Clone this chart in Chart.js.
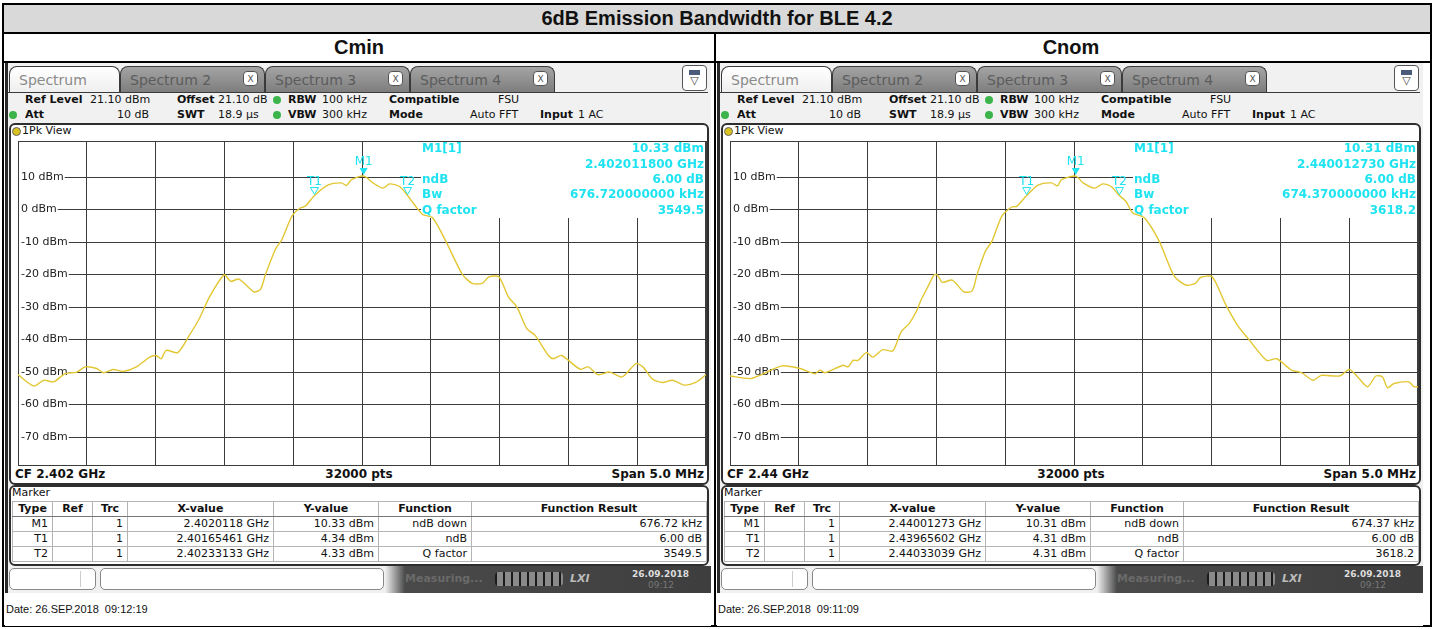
<!DOCTYPE html>
<html lang="en">
<head>
<meta charset="UTF-8">
<title>6dB Emission Bandwidth for BLE 4.2</title>
<script src="https://cdn.jsdelivr.net/npm/chart.js"></script>
<style>
body{margin:0;width:1435px;height:629px;position:relative;overflow:hidden;background:#fff;font-family:"DejaVu Sans",Verdana,sans-serif;font-size:11px;color:#111}
.a{position:absolute;box-sizing:border-box}
.t{position:absolute;white-space:nowrap;height:16px;line-height:16px}
.head{position:absolute;font-family:"Liberation Sans",Arial,sans-serif;font-weight:bold;font-size:20px;text-align:center;line-height:28px}
.tab{position:absolute;top:66px;height:27px;border:1px solid #3a3a3a;border-bottom:none;border-radius:8px 8px 0 0;font-size:14px;line-height:26px;box-sizing:border-box;padding-left:9px}
.off{background:linear-gradient(#a4a4a4,#7c7c7c);color:#5c5c5c}
.on{background:linear-gradient(#ffffff,#eeeeee);color:#8a8a8a}
.x{position:absolute;top:4px;width:15px;height:15px;border:1px solid #555;border-radius:4px;background:#fff;color:#555;font-size:9px;line-height:14px;text-align:center;padding:0;box-sizing:border-box}
.mk{position:absolute;border-collapse:collapse;table-layout:fixed;font-size:11px}
.mk td,.mk th{border:1px solid #b4b4b4;padding:0 4px;height:14px;line-height:14px;text-align:right;white-space:nowrap;overflow:hidden}
.mk th{text-align:center;font-weight:bold;border-bottom:1px solid #777}
.dot{position:absolute;width:8px;height:8px;border-radius:50%;background:#3cb44a}
</style>
</head>
<body>
<script>
// trace, frequency offset from CF in MHz / level in dBm
const cminFreq = [-2.5,-2.385,-2.313,-2.241,-2.157,-2.072,-2.012,-1.928,-1.880,-1.808,-1.736,-1.639,-1.543,-1.495,-1.459,-1.423,-1.339,-1.255,-1.183,-1.110,-1.002,-0.954,-0.894,-0.786,-0.737,-0.701,-0.629,-0.582,-0.509,-0.449,-0.413,-0.345,-0.245,-0.149,-0.113,-0.076,0.012,0.080,0.152,0.201,0.273,0.331,0.381,0.441,0.513,0.609,0.729,0.801,0.874,0.922,0.994,1.066,1.126,1.199,1.258,1.355,1.391,1.451,1.583,1.644,1.716,1.800,1.884,1.920,1.992,2.041,2.113,2.185,2.257,2.341,2.425,2.5];
const cminLevel = [-50.8,-54.3,-52.5,-53,-50.5,-50,-48.4,-48.9,-50.2,-49.2,-49.8,-48.4,-45.4,-44.9,-45.9,-43.3,-44,-38.7,-33.6,-27,-20.1,-22.1,-21.4,-25.3,-24.5,-19.9,-12.2,-9.2,-2,0.5,1,4.34,7.6,8.2,7.4,9.2,10.33,8.2,6.6,7.9,7.1,4.33,1.5,-1.5,-2.5,-9.7,-19.9,-22.7,-22.7,-20.7,-20.7,-27,-30,-36.7,-38.7,-44.9,-45.9,-44.9,-49.1,-48.4,-50.8,-50,-51.5,-50.5,-47.4,-48.4,-52.2,-53.2,-52.5,-54,-53.2,-50.8];
const cnomFreq = [-2.5,-2.351,-2.255,-2.123,-1.991,-1.882,-1.846,-1.810,-1.678,-1.642,-1.606,-1.570,-1.509,-1.462,-1.390,-1.317,-1.257,-1.197,-1.149,-1.113,-1.065,-1.017,-0.993,-0.957,-0.885,-0.800,-0.740,-0.704,-0.644,-0.596,-0.524,-0.452,-0.416,-0.344,-0.258,-0.163,-0.120,-0.091,0.013,0.066,0.150,0.210,0.270,0.330,0.378,0.426,0.511,0.619,0.727,0.811,0.883,0.919,1.004,1.100,1.190,1.268,1.400,1.473,1.581,1.653,1.737,1.797,1.929,2.001,2.062,2.134,2.194,2.242,2.278,2.326,2.434,2.470,2.5];
const cnomLevel = [-51.2,-52,-50.5,-48.1,-48.9,-50.5,-49.4,-50.2,-47.9,-48.4,-46.4,-46.4,-44,-45.4,-43.1,-43.5,-37.7,-35,-31.6,-28,-24,-20.1,-20.1,-22.4,-21.7,-25.3,-25,-19.9,-12.8,-9.7,-2,0.8,1,4.31,7.6,8.2,7.3,9.2,10.31,8.2,6.6,7.9,7.1,4.31,2.5,-1,-2.5,-9.7,-20.4,-23.2,-22.7,-20.9,-20.7,-29,-35.7,-39.8,-46.4,-45.9,-49.4,-50.2,-52.5,-51,-51.2,-49.2,-51.5,-54.5,-51.2,-51.5,-54.8,-53.5,-53,-54.5,-54.5];

// axes
const xTicks = [-2.5,-2,-1.5,-1,-0.5,0,0.5,1,1.5,2,2.5];
const yTicks = [10,0,-10,-20,-30,-40,-50,-60,-70];
const refLevel = 21.1;

// markers
const markerNames = ['M1','T1','T2'];
const cminMarkFreq = [0.0118,-0.34539,0.33133];
const cminMarkLevel = [10.33,4.34,4.33];
const cnomMarkFreq = [0.01273,-0.34398,0.33039];
const cnomMarkLevel = [10.31,4.31,4.31];

// texts
const panelNames = ['Cmin','Cnom'];
const cfLabels = ['CF 2.402 GHz','CF 2.44 GHz'];
const infoLeft = ['M1[1]','','ndB','Bw','Q factor'];
const cminInfo = ['10.33 dBm','2.402011800 GHz','6.00 dB','676.720000000 kHz','3549.5'];
const cnomInfo = ['10.31 dBm','2.440012730 GHz','6.00 dB','674.370000000 kHz','3618.2'];
const tableHead = ['Type','Ref','Trc','X-value','Y-value','Function','Function Result'];
const cminX = ['2.4020118 GHz','2.40165461 GHz','2.40233133 GHz'];
const cminY = ['10.33 dBm','4.34 dBm','4.33 dBm'];
const cnomX = ['2.44001273 GHz','2.43965602 GHz','2.44033039 GHz'];
const cnomY = ['10.31 dBm','4.31 dBm','4.31 dBm'];
const funcNames = ['ndB down','ndB','Q factor'];
const cminResult = ['676.72 kHz','6.00 dB','3549.5'];
const cnomResult = ['674.37 kHz','6.00 dB','3618.2'];
const dates = ['Date: 26.SEP.2018&nbsp;&nbsp;09:12:19','Date: 26.SEP.2018&nbsp;&nbsp;09:11:09'];

const CYAN = '#1fe3f0';
const TRACE = '#e2c733';

function el(css, html, cls) {
    const d = document.createElement('div');
    d.className = cls || 'a';
    d.style.cssText = css;
    if (html !== undefined) d.innerHTML = html;
    document.body.appendChild(d);
    return d;
}
function txt(x, y, s, extra) { return el(`left:${x}px;top:${y-8}px;${extra||''}`, s, 't'); }
function rtxt(x, y, s, extra) { return el(`left:${x-300}px;top:${y-8}px;width:300px;text-align:right;${extra||''}`, s, 't'); }

// outer table
el('left:2px;top:3px;width:1430px;height:30px;background:#d9d9d9');
el('left:2px;top:3px;width:1430px;height:624px;border:2px solid #000');
el('left:2px;top:32px;width:1430px;height:2px;background:#000');
el('left:2px;top:61px;width:1430px;height:2px;background:#000');
el('left:714px;top:32px;width:2px;height:595px;background:#000');
el('left:2px;top:4px;width:1430px;height:28px', '6dB Emission Bandwidth for BLE 4.2', 'head');

const overlay = {
    id: 'rsOverlay',
    beforeDatasetsDraw(chart, args, opts) {
        const {ctx, chartArea: a} = chart;
        ctx.save();
        ctx.fillStyle = '#fff';
        ctx.fillRect(a.left + 403, a.top, a.right - a.left - 403, 77);
        ctx.strokeStyle = '#3c3c3c';
        ctx.lineWidth = 1;
        ctx.strokeRect(a.left + 0.5, a.top + 0.5, a.width - 1, a.height - 1);
        ctx.fillStyle = CYAN;
        ctx.font = 'bold 12px "DejaVu Sans"';
        ctx.textBaseline = 'middle';
        const rows = [8, 23.5, 39, 54, 70];
        infoLeft.forEach((s, i) => { ctx.textAlign = 'left'; ctx.fillText(s, a.left + 404, a.top + rows[i]); });
        opts.info.forEach((s, i) => { ctx.textAlign = 'right'; ctx.fillText(s, a.right - 2, a.top + rows[i]); });
        ctx.restore();
    },
    afterDatasetsDraw(chart, args, opts) {
        const ctx = chart.ctx, xs = chart.scales.x, ys = chart.scales.y;
        ctx.save();
        markerNames.forEach((n, i) => {
            const px = xs.getPixelForValue(opts.freq[i]);
            const py = ys.getPixelForValue(opts.level[i]);
            ctx.beginPath();
            ctx.moveTo(px, py - 1);
            ctx.lineTo(px - 4, py - 8);
            ctx.lineTo(px + 4, py - 8);
            ctx.closePath();
            ctx.strokeStyle = CYAN;
            ctx.fillStyle = CYAN;
            if (i === 0) ctx.fill(); else ctx.stroke();
            ctx.font = '12px "DejaVu Sans"';
            ctx.textAlign = 'center';
            ctx.textBaseline = 'middle';
            ctx.fillText(n, px, py - 14);
        });
        ctx.restore();
    }
};

function panel(k, freq, level, mFreq, mLevel, info, xv, yv, res) {
    const o = k * 712;
    el(`left:${359 + o - 200}px;top:33px;width:400px;height:28px`, panelNames[k], 'head');
    // instrument screen background
    el(`left:${5 + o}px;top:63px;width:706px;height:530px;background:#f1f1f1`);
    el(`left:${5 + o}px;top:63px;width:3px;height:530px;background:#2a2a2a`);
    // tabs
    el(`left:${9 + o}px;width:111px`, 'Spectrum', 'tab on');
    const tabNames = ['Spectrum 2', 'Spectrum 3', 'Spectrum 4'];
    tabNames.forEach((s, i) => {
        const t = el(`left:${120 + o + i * 145}px;width:145px`, s, 'tab off');
        const x = document.createElement('div');
        x.className = 'x'; x.style.left = '122px'; x.textContent = 'X';
        t.appendChild(x);
    });
    el(`left:${8 + o}px;top:92px;width:700px;height:1px;background:#3a3a3a`);
    el(`left:${682 + o}px;top:65px;width:25px;height:26px;border:1px solid #555;border-radius:4px;background:#fff;text-align:center;font-size:11px;line-height:12px;color:#444`,
       '<div style="margin:4px auto 0;width:11px;height:5px;background:#4a5a7a"></div>&#9661;');
    // settings lines
    txt(25 + o, 100, 'Ref Level', 'font-weight:bold');
    txt(90 + o, 100, '21.10 dBm');
    txt(177 + o, 100, 'Offset', 'font-weight:bold');
    txt(218 + o, 100, '21.10 dB');
    el(`left:${273 + o}px;top:96px`, '', 'dot');
    txt(288 + o, 100, 'RBW', 'font-weight:bold');
    txt(322 + o, 100, '100 kHz');
    txt(389 + o, 100, 'Compatible', 'font-weight:bold');
    txt(498 + o, 100, 'FSU');
    el(`left:${9 + o}px;top:111px`, '', 'dot');
    txt(25 + o, 115, 'Att', 'font-weight:bold');
    rtxt(149 + o, 115, '10 dB');
    txt(177 + o, 115, 'SWT', 'font-weight:bold');
    txt(218 + o, 115, '18.9 µs');
    el(`left:${273 + o}px;top:111px`, '', 'dot');
    txt(288 + o, 115, 'VBW', 'font-weight:bold');
    txt(322 + o, 115, '300 kHz');
    txt(389 + o, 115, 'Mode', 'font-weight:bold');
    txt(470 + o, 115, 'Auto FFT');
    txt(540 + o, 115, 'Input', 'font-weight:bold');
    txt(578 + o, 115, '1 AC');
    // trace window
    el(`left:${9 + o}px;top:123px;width:700px;height:362px;border:2px solid #2e2e2e;border-radius:6px;background:#fff`);
    el(`left:${12 + o}px;top:127px;width:9px;height:9px;border-radius:50%;background:#d9c21e;border:1px solid #666`);
    txt(22 + o, 131, '1Pk View');
    txt(15 + o, 474, cfLabels[k], 'font-weight:bold;font-size:12px');
    el(`left:${o + 259}px;top:466px;width:200px;height:16px;line-height:16px;text-align:center;font-weight:bold;font-size:12px`, '32000 pts');
    rtxt(704 + o, 474, 'Span 5.0 MHz', 'font-weight:bold;font-size:12px');
    const cv = document.createElement('canvas');
    cv.width = 696; cv.height = 327;
    cv.style.cssText = `position:absolute;left:${11 + o}px;top:140px;width:696px;height:327px`;
    document.body.appendChild(cv);
    // marker table
    el(`left:${9 + o}px;top:485px;width:700px;height:81px;border:2px solid #2e2e2e;border-radius:6px;background:#fff`);
    txt(12 + o, 493, 'Marker');
    const widths = [40, 40, 35, 146, 105, 93, 235];
    let h = '<colgroup>' + widths.map(w => `<col style="width:${w}px">`).join('') + '</colgroup>';
    h += '<tr>' + tableHead.map(s => `<th>${s}</th>`).join('') + '</tr>';
    markerNames.forEach((n, i) => {
        h += `<tr><td>${n}</td><td></td><td>1</td><td>${xv[i]}</td><td>${yv[i]}</td><td>${funcNames[i]}</td><td>${res[i]}</td></tr>`;
    });
    const tb = document.createElement('table');
    tb.className = 'mk';
    tb.style.cssText = `left:${12 + o}px;top:501px;width:694px`;
    tb.innerHTML = h;
    document.body.appendChild(tb);
    // status bar
    el(`left:${9 + o}px;top:568px;width:87px;height:22px;border:1px solid #888;border-radius:5px;background:#fff`);
    el(`left:${80 + o}px;top:571px;width:1px;height:16px;background:#ccc`);
    el(`left:${100 + o}px;top:568px;width:284px;height:22px;border:1px solid #888;border-radius:5px;background:#fff`);
    el(`left:${385 + o}px;top:566px;width:326px;height:27px;background:linear-gradient(90deg,#f1f1f1 0px,#4a4a4a 20px,#3e3e3e 100%)`);
    txt(405 + o, 579, 'Measuring...', 'color:#6a6a6a;font-weight:bold');
    el(`left:${495 + o}px;top:572px;width:68px;height:14px;border-radius:4px;background:repeating-linear-gradient(90deg,#1a1a1a 0 2px,#8a8a8a 2px 8px)`);
    txt(570 + o, 579, 'LXI', 'color:#bbb;font-weight:bold;font-style:italic');
    txt(632 + o, 574, '26.09.2018', 'color:#ddd;font-size:9px;font-weight:bold');
    txt(648 + o, 585, '09:12', 'color:#777;font-size:9px');
    el(`left:${5 + o}px;top:593px;width:706px;height:33px;background:#fff`);
    txt(6 + o, 609, dates[k], 'font-family:\'Liberation Sans\',Arial,sans-serif;font-size:11px');

    new Chart(cv.getContext('2d'), {
        type: 'line',
        data: {datasets: [{data: freq.map((f, i) => ({x: f, y: level[i]})),
                           borderColor: TRACE, borderWidth: 1.4, pointRadius: 0,
                           tension: 0.25, fill: false}]},
        options: {
            responsive: false, animation: false, events: [],
            layout: {padding: 1},
            plugins: {legend: {display: false}, tooltip: {enabled: false},
                      rsOverlay: {info: info, freq: mFreq, level: mLevel}},
            scales: {
                x: {type: 'linear', min: -2.5, max: 2.5,
                    afterBuildTicks: s => { s.ticks = xTicks.map(v => ({value: v})); },
                    ticks: {display: false},
                    grid: {color: '#3c3c3c', drawTicks: false},
                    border: {display: false}},
                y: {type: 'linear', min: refLevel - 100, max: refLevel,
                    afterBuildTicks: s => { s.ticks = yTicks.map(v => ({value: v})); },
                    afterFit: s => { s.paddingTop = 0; s.paddingBottom = 0; },
                    ticks: {mirror: true, padding: 3, color: '#222',
                            font: {family: 'DejaVu Sans', size: 11},
                            callback: v => v + ' dBm',
                            showLabelBackdrop: true, backdropColor: '#fff',
                            backdropPadding: {left: 3, right: 1, top: 0, bottom: 0}},
                    grid: {color: '#3c3c3c', drawTicks: false},
                    border: {display: false}}
            }
        },
        plugins: [overlay]
    });
}

panel(0, cminFreq, cminLevel, cminMarkFreq, cminMarkLevel, cminInfo, cminX, cminY, cminResult);
panel(1, cnomFreq, cnomLevel, cnomMarkFreq, cnomMarkLevel, cnomInfo, cnomX, cnomY, cnomResult);
</script>
</body>
</html>
